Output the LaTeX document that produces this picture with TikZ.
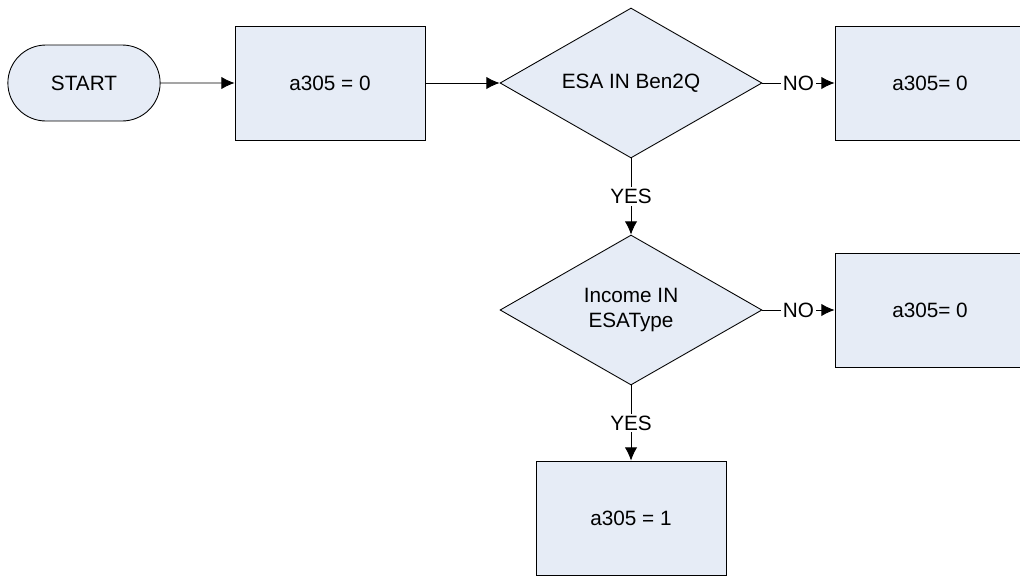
\documentclass[tikz,border=0pt]{standalone}
\usepackage{fontspec}
\setmainfont{Liberation Sans}
\usepackage{tikz}
\usetikzlibrary{shapes.geometric,shapes.misc,arrows.meta}
\definecolor{boxfill}{RGB}{230,236,246}
\tikzset{
  stepbox/.style={draw, fill=boxfill, line width=0.5pt, minimum width=3.8cm, minimum height=2.28cm},
  startbox/.style={draw, fill=boxfill, line width=0.5pt, rounded rectangle, minimum width=3.28cm, minimum height=1.52cm},
  testbox/.style={draw, fill=boxfill, line width=0.5pt, diamond, aspect=1.75, inner sep=0pt, minimum width=5.24cm, minimum height=3cm, align=center},
  flow/.style={line width=0.5pt, -{Latex[length=7.5pt,width=7pt]}},
  answer/.style={fill=white, inner sep=1pt}
}

\begin{document}
\begin{tikzpicture}[x=0.02cm, y=-0.02cm, font=\fontsize{11.8}{14.2}\selectfont]
      \useasboundingbox (0,0) rectangle (1020,575);
      \node [startbox] (start) at (84,83) {START};
      \node [stepbox] (init) at (330,83) {a305 = 0};
      \node [testbox] (esa) at (631,83) {ESA IN Ben2Q};
      \node [stepbox] (noesa) at (930,83) {a305= 0};
      \node [testbox] (income) at (631,310) {Income IN\\ESAType};
      \node [stepbox] (noincome) at (930,310) {a305= 0};
      \node [stepbox] (yes) at (631,518) {a305 = 1};

      \draw [flow] (start) -- (init);
      \draw [flow] (init) -- (esa);
      \draw [flow] (esa) -- (noesa) node [midway, answer] {NO};
      \draw [flow] (esa) -- (income) node [midway, answer] {YES};
      \draw [flow] (income) -- (noincome) node [midway, answer] {NO};
      \draw [flow] (income) -- (yes) node [midway, answer] {YES};
  \end{tikzpicture}
\end{document}
